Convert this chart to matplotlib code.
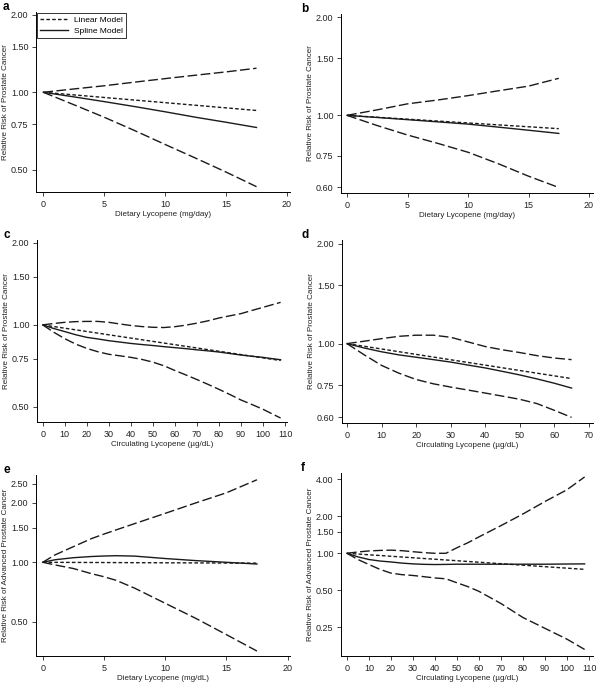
import numpy as np
import matplotlib
matplotlib.use("Agg")
from matplotlib import pyplot as plt

plt.rcParams['font.family'] = ['Liberation Sans', 'DejaVu Sans']

# panel a : dietary lycopene, prostate cancer
a_x = [0, 2.5, 5, 7.5, 10, 12.5, 15, 17.5]
a_upper = [1.0, 1.03, 1.06, 1.095, 1.13, 1.165, 1.20, 1.24]
a_lower = [1.0, 0.895, 0.80, 0.71, 0.627, 0.555, 0.49, 0.43]
a_spline = [1.0, 0.96, 0.92, 0.88, 0.84, 0.80, 0.765, 0.73]
a_lin_x = [0, 17.5]
a_linear = [1.0, 0.85]

# panel b : dietary lycopene (alt)
b_x = [0, 2.5, 5, 7.5, 10, 12.5, 15, 17.5]
b_upper = [1.0, 1.04, 1.085, 1.115, 1.15, 1.19, 1.23, 1.30]
b_lower = [1.0, 0.93, 0.87, 0.82, 0.77, 0.71, 0.65, 0.60]
b_spline = [1.0, 0.985, 0.97, 0.955, 0.94, 0.92, 0.90, 0.88]
b_lin_x = [0, 17.5]
b_linear = [1.0, 0.91]

# panel c : circulating lycopene
c_x = [0, 5, 10, 15, 20, 25, 30, 35, 40, 45, 50, 55, 60, 65, 70, 75, 80, 85, 90, 95, 100, 104, 108]
c_upper = [1.0, 1.012, 1.022, 1.028, 1.03, 1.03, 1.022, 1.008, 0.995, 0.986, 0.98, 0.978, 0.985,
           0.998, 1.015, 1.035, 1.06, 1.08, 1.10, 1.13, 1.16, 1.185, 1.21]
c_lower = [1.0, 0.94, 0.89, 0.85, 0.82, 0.797, 0.78, 0.77, 0.76, 0.747, 0.73, 0.708, 0.68,
           0.655, 0.63, 0.605, 0.58, 0.555, 0.53, 0.51, 0.49, 0.472, 0.455]
c_spline = [1.0, 0.97, 0.945, 0.92, 0.90, 0.888, 0.875, 0.865, 0.855, 0.847, 0.84, 0.832, 0.825,
            0.818, 0.81, 0.803, 0.795, 0.785, 0.775, 0.767, 0.76, 0.752, 0.745]
c_lin_x = [0, 108]
c_linear = [1.0, 0.74]

# panel d : circulating lycopene (alt)
d_x = [0, 5, 10, 15, 20, 25, 30, 35, 40, 45, 50, 55, 60, 65]
d_upper = [1.0, 1.017, 1.035, 1.052, 1.06, 1.06, 1.045, 1.012, 0.98, 0.958, 0.94, 0.92, 0.905, 0.895]
d_lower = [1.0, 0.925, 0.86, 0.815, 0.78, 0.757, 0.74, 0.725, 0.71, 0.695, 0.68, 0.66, 0.63, 0.60]
d_spline = [1.0, 0.97, 0.945, 0.925, 0.91, 0.895, 0.88, 0.862, 0.845, 0.825, 0.805, 0.783, 0.76, 0.735]
d_lin_x = [0, 65]
d_linear = [1.0, 0.785]

# panel e : dietary lycopene, advanced prostate cancer
e_x = [0, 1, 2.5, 4, 5, 6, 7.5, 10, 12.5, 15, 17.5]
e_upper = [1.0, 1.09, 1.20, 1.32, 1.39, 1.46, 1.57, 1.77, 2.0, 2.25, 2.62]
e_lower = [1.0, 0.97, 0.93, 0.875, 0.845, 0.81, 0.74, 0.62, 0.52, 0.43, 0.355]
e_spline = [1.0, 1.03, 1.055, 1.07, 1.076, 1.08, 1.075, 1.045, 1.02, 1.0, 0.98]
e_lin_x = [0, 17.5]
e_linear = [1.0, 0.99]

# panel f : circulating lycopene, advanced prostate cancer
f_x = [0, 5, 10, 15, 20, 25, 30, 35, 40, 45, 50, 55, 60, 70, 80, 90, 100, 108]
f_upper = [1.0, 1.025, 1.045, 1.055, 1.06, 1.05, 1.03, 1.012, 1.0, 1.0, 1.11, 1.22, 1.36, 1.68,
           2.09, 2.64, 3.29, 4.18]
f_lower = [1.0, 0.89, 0.81, 0.74, 0.69, 0.67, 0.66, 0.645, 0.63, 0.62, 0.575, 0.535, 0.49, 0.39,
           0.30, 0.245, 0.20, 0.165]
f_spline = [1.0, 0.935, 0.89, 0.865, 0.85, 0.832, 0.82, 0.813, 0.81, 0.812, 0.815, 0.815, 0.815,
            0.815, 0.815, 0.815, 0.818, 0.82]
f_lin_x = [0, 108]
f_linear = [1.0, 0.74]

yt_ab = [0.50, 0.75, 1.00, 1.50, 2.00]
yt_bd = [0.60, 0.75, 1.00, 1.50, 2.00]
yt_e = [0.50, 1.00, 1.50, 2.00, 2.50]
yt_f = [0.25, 0.50, 1.00, 1.50, 2.00, 4.00]

W, H = 597, 685
fig = plt.figure(figsize=(W / 100, H / 100), dpi=100)

panels = [
    # letter, px box (l, t, r, b), xlim, ylim, xticks, yticks, xlabel, ylabel, data
    ('a', (36, 12, 290, 192), (-0.6, 20.25), (0.41, 2.05), range(0, 21, 5), yt_ab,
     'Dietary Lycopene (mg/day)', 'Relative Risk of Prostate Cancer',
     (a_x, a_upper, a_lower, a_spline, a_lin_x, a_linear)),
    ('b', (341, 14, 593, 193), (-0.5, 20.33), (0.577, 2.05), range(0, 21, 5), yt_bd,
     'Dietary Lycopene (mg/day)', 'Relative Risk of Prostate Cancer',
     (b_x, b_upper, b_lower, b_spline, b_lin_x, b_linear)),
    ('c', (37, 240, 287, 422), (-2.6, 110.9), (0.44, 2.05), range(0, 111, 10), yt_ab,
     'Circulating Lycopene (\u00b5g/dL)', 'Relative Risk of Prostate Cancer',
     (c_x, c_upper, c_lower, c_spline, c_lin_x, c_linear)),
    ('d', (342, 240, 593, 423), (-1.45, 71.2), (0.577, 2.05), range(0, 71, 10), yt_bd,
     'Circulating Lycopene (\u00b5g/dL)', 'Relative Risk of Prostate Cancer',
     (d_x, d_upper, d_lower, d_spline, d_lin_x, d_linear)),
    ('e', (36, 475, 290, 656), (-0.55, 20.2), (0.335, 2.77), range(0, 21, 5), yt_e,
     'Dietary Lycopene (mg/dL)', 'Relative Risk of Advanced Prostate Cancer',
     (e_x, e_upper, e_lower, e_spline, e_lin_x, e_linear)),
    ('f', (341, 473, 593, 656), (-2.7, 111.8), (0.146, 4.5), range(0, 111, 10), yt_f,
     'Circulating Lycopene (\u00b5g/dL)', 'Relative Risk of Advanced Prostate Cancer',
     (f_x, f_upper, f_lower, f_spline, f_lin_x, f_linear)),
]

ink = '#1a1a1a'
for letter, box, xl, yl, xt, yt, xlab, ylab, data in panels:
    l, t, r, b = box
    ax = fig.add_axes([l / W, 1 - b / H, (r - l) / W, (b - t) / H])
    x, up, lo, sp, lx, lin = data
    ax.plot(x, up, color=ink, lw=1.0, dashes=(7, 2.5))
    ax.plot(x, lo, color=ink, lw=1.0, dashes=(7, 2.5))
    ax.plot(lx, lin, color=ink, lw=1.0, dashes=(2.6, 1.6), label='Linear Model')
    ax.plot(x, sp, color=ink, lw=1.0, label='Spline Model')
    ax.set_yscale('log')
    ax.set_xlim(*xl)
    ax.set_ylim(*yl)
    ax.set_xticks(list(xt))
    ax.set_yticks(yt)
    ax.set_yticklabels(['%.2f' % v for v in yt])
    ax.minorticks_off()
    for s in ('top', 'right'):
        ax.spines[s].set_visible(False)
    for s in ('left', 'bottom'):
        ax.spines[s].set_linewidth(0.7)
    ax.tick_params(labelsize=6.5, length=3, width=0.6, pad=2.5, colors='#222222')
    ax.set_xlabel(xlab, fontsize=5.8, labelpad=1.5, color='#222222')
    ax.set_ylabel(ylab, fontsize=5.8, color='#222222')
    ax.yaxis.set_label_coords((l - 27 - l) / (r - l), 0.5)
    col_x = 3 if l < 200 else 301
    fig.text(col_x / W, 1 - (t - 5) / H, letter, fontsize=8.5, fontweight='bold',
             ha='left', va='center')
    if letter == 'a':
        leg = ax.legend(loc='upper left', fontsize=6, frameon=True, fancybox=False,
                        borderaxespad=0.15, handlelength=3.3, edgecolor='black',
                        borderpad=0.35, labelspacing=0.35)
        leg.get_frame().set_linewidth(0.7)

fig.savefig('out.png', dpi=100)
